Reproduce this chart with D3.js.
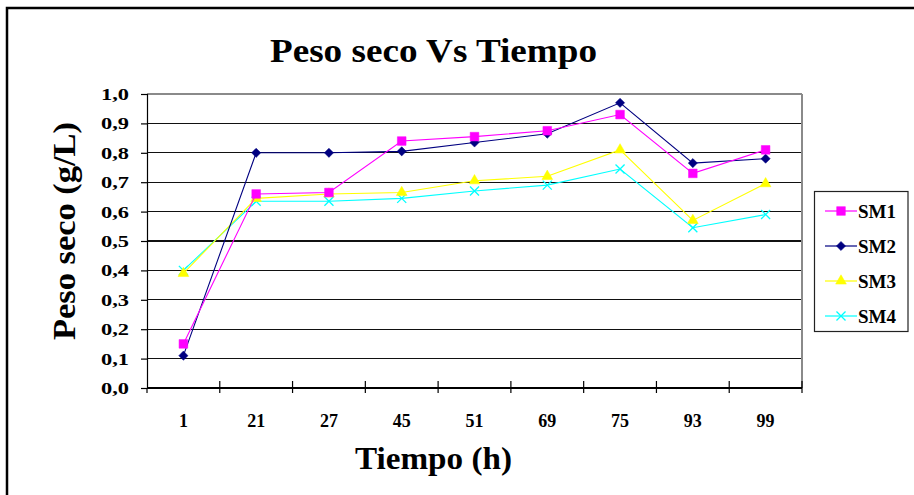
<!DOCTYPE html>
<html>
<head>
<meta charset="utf-8">
<script src="https://cdn.jsdelivr.net/npm/d3@7"></script>
<style>
  html, body { margin: 0; padding: 0; background: #fff; }
  svg { display: block; }
  text { font-family: "Liberation Serif", "Times New Roman", serif; font-weight: bold; fill: #000; }
</style>
</head>
<body>
<svg id="chart" width="914" height="495"></svg>
<script>
// Sampling times (h) and dry-weight readings (g/L) for each culture
const categories = ["1", "21", "27", "45", "51", "69", "75", "93", "99"];
const sm1 = [0.15, 0.66, 0.665, 0.84, 0.855, 0.875, 0.93, 0.73, 0.81];
const sm2 = [0.11, 0.80, 0.80, 0.805, 0.835, 0.865, 0.97, 0.765, 0.78];
const sm3 = [0.39, 0.645, 0.66, 0.665, 0.705, 0.72, 0.81, 0.57, 0.695];
const sm4 = [0.40, 0.635, 0.635, 0.645, 0.67, 0.69, 0.745, 0.545, 0.59];
const seriesNames = ["SM1", "SM2", "SM3", "SM4"];
const yTicks = [0, 0.1, 0.2, 0.3, 0.4, 0.5, 0.6, 0.7, 0.8, 0.9, 1.0];

const series = [
  { name: seriesNames[0], values: sm1, color: "#ff00ff", symbol: "square" },
  { name: seriesNames[1], values: sm2, color: "#000080", symbol: "diamond" },
  { name: seriesNames[2], values: sm3, color: "#ffff00", symbol: "triangle" },
  { name: seriesNames[3], values: sm4, color: "#00ffff", symbol: "cross" }
];

const svg = d3.select("#chart");

// Outer chart frame (continues past the right and bottom edges)
svg.append("rect")
  .attr("x", 7).attr("y", 8)
  .attr("width", 940).attr("height", 520)
  .attr("fill", "#fff").attr("stroke", "#000").attr("stroke-width", 2.5);

const plot = { left: 147, right: 802, top: 94, bottom: 388 };

const x = d3.scaleBand().domain(categories).range([plot.left, plot.right]).padding(0);
const y = d3.scaleLinear().domain([0, 1]).range([plot.bottom, plot.top]);

// Horizontal gridlines
svg.append("g").selectAll("line")
  .data(yTicks.filter(t => t > 0))
  .join("line")
  .attr("x1", plot.left).attr("x2", plot.right)
  .attr("y1", d => y(d)).attr("y2", d => y(d))
  .attr("stroke", d => d === 1 ? "#8a8a8a" : "#111")
  .attr("stroke-width", 1.2)
  .attr("shape-rendering", "crispEdges");

// Right border of plot area
svg.append("line")
  .attr("x1", plot.right).attr("x2", plot.right)
  .attr("y1", plot.top).attr("y2", plot.bottom)
  .attr("stroke", "#8a8a8a").attr("stroke-width", 1.2)
  .attr("shape-rendering", "crispEdges");

// Y axis
const yAxis = svg.append("g")
  .attr("transform", `translate(${plot.left},0)`)
  .call(d3.axisLeft(y).tickValues(yTicks).tickSize(6).tickPadding(12)
    .tickFormat(d => d3.format(".1f")(d).replace(".", ",")));
yAxis.select(".domain").attr("stroke", "#000").attr("stroke-width", 1.2);
yAxis.selectAll(".tick line").attr("stroke", "#000").attr("stroke-width", 1.2);
yAxis.selectAll(".tick text")
  .attr("font-size", 17).attr("font-family", null)
  .attr("textLength", 28).attr("lengthAdjust", "spacingAndGlyphs");

// Extend y axis line slightly below the x axis (Excel-style crossing)
svg.append("line")
  .attr("x1", plot.left).attr("x2", plot.left)
  .attr("y1", plot.bottom).attr("y2", plot.bottom + 5)
  .attr("stroke", "#000").attr("stroke-width", 1.2);

// X axis: ticks at category boundaries, labels at category centres
svg.append("line")
  .attr("x1", plot.left).attr("x2", plot.right)
  .attr("y1", plot.bottom).attr("y2", plot.bottom)
  .attr("stroke", "#000").attr("stroke-width", 1.2)
  .attr("shape-rendering", "crispEdges");

const boundaries = categories.map(c => x(c)).concat([x(categories[categories.length - 1]) + x.bandwidth()]);
svg.append("g").selectAll("line")
  .data(boundaries.slice(1))
  .join("line")
  .attr("x1", d => d).attr("x2", d => d)
  .attr("y1", plot.bottom - 7).attr("y2", plot.bottom + 5)
  .attr("stroke", "#000").attr("stroke-width", 1.2);

svg.append("g").selectAll("text")
  .data(categories)
  .join("text")
  .attr("x", d => x(d) + x.bandwidth() / 2)
  .attr("y", 427)
  .attr("text-anchor", "middle")
  .attr("font-size", 18)
  .text(d => d);

// Series lines and markers
const symbolTypes = {
  square: d3.symbolSquare,
  triangle: d3.symbolTriangle,
  cross: d3.symbolX
};
const symbolSizes = { square: 75, triangle: 50, cross: 55 };

function drawMarker(g, s, cx, cy) {
  let path;
  if (s.symbol === "diamond") {
    const r = 4.6;
    path = `M0,${-r}L${r},0L0,${r}L${-r},0Z`;
  } else {
    path = d3.symbol().type(symbolTypes[s.symbol]).size(symbolSizes[s.symbol])();
  }
  const m = g.append("path")
    .attr("d", path)
    .attr("transform", `translate(${cx},${cy})`);
  if (s.symbol === "cross") {
    m.attr("fill", "none").attr("stroke", s.color).attr("stroke-width", 1.3);
  } else {
    m.attr("fill", s.color).attr("stroke", s.color).attr("stroke-width", 0.5);
  }
}

const line = d3.line()
  .x((d, i) => x(categories[i]) + x.bandwidth() / 2)
  .y(d => y(d));

// Draw in reverse order so SM1 sits on top
[...series].reverse().forEach(s => {
  const g = svg.append("g");
  g.append("path")
    .attr("d", line(s.values))
    .attr("fill", "none")
    .attr("stroke", s.color)
    .attr("stroke-width", 1.1);
  s.values.forEach((v, i) => drawMarker(g, s, x(categories[i]) + x.bandwidth() / 2, y(v)));
});

// Legend
const legend = svg.append("g");
legend.append("rect")
  .attr("x", 814.5).attr("y", 191.5)
  .attr("width", 93.5).attr("height", 140)
  .attr("fill", "#fff").attr("stroke", "#222").attr("stroke-width", 1.2);
series.forEach((s, i) => {
  const ly = 211 + i * 35;
  legend.append("line")
    .attr("x1", 825).attr("x2", 857)
    .attr("y1", ly).attr("y2", ly)
    .attr("stroke", s.color).attr("stroke-width", 1.2);
  drawMarker(legend, s, 841, ly);
  legend.append("text")
    .attr("x", 858).attr("y", ly + 6.5)
    .attr("font-size", 18)
    .attr("textLength", 38).attr("lengthAdjust", "spacingAndGlyphs")
    .text(s.name);
});

// Titles
svg.append("text")
  .attr("x", 433.5).attr("y", 62)
  .attr("text-anchor", "middle")
  .attr("font-size", 33)
  .attr("textLength", 327).attr("lengthAdjust", "spacingAndGlyphs")
  .text("Peso seco Vs Tiempo");

svg.append("text")
  .attr("x", 433.5).attr("y", 469)
  .attr("text-anchor", "middle")
  .attr("font-size", 31)
  .attr("textLength", 157).attr("lengthAdjust", "spacingAndGlyphs")
  .text("Tiempo (h)");

svg.append("text")
  .attr("transform", "translate(75,231) rotate(-90)")
  .attr("text-anchor", "middle")
  .attr("font-size", 32)
  .attr("textLength", 218).attr("lengthAdjust", "spacingAndGlyphs")
  .text("Peso seco (g/L)");
</script>
</body>
</html>
